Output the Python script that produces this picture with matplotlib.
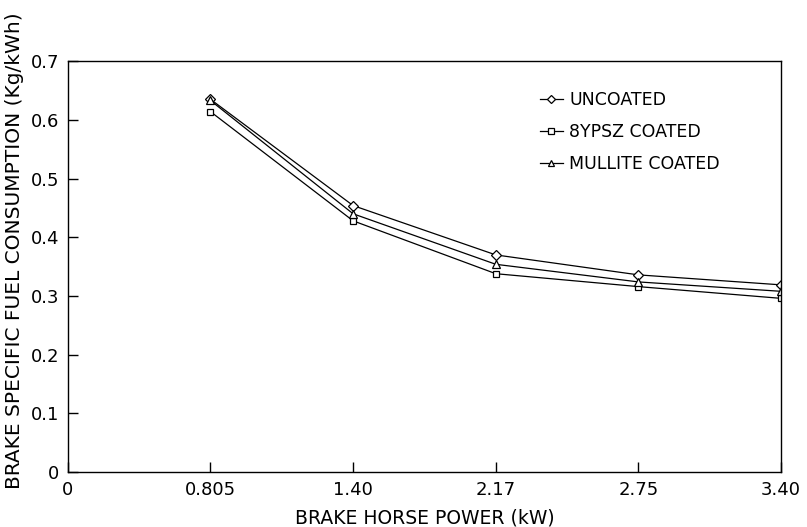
import matplotlib.pyplot as plt

# x categories (evenly spaced on the original chart)
bhp_labels = ['0', '0.805', '1.40', '2.17', '2.75', '3.40']
uncoated = [0.635, 0.454, 0.370, 0.336, 0.319]
ypsz_coated = [0.614, 0.428, 0.338, 0.316, 0.296]
mullite_coated = [0.633, 0.440, 0.354, 0.324, 0.308]

plt.rcParams['font.family'] = ['DejaVu Sans']

fig = plt.figure(figsize=(8.07, 5.27), dpi=100)
ax = fig.add_axes([0.084, 0.104, 0.884, 0.780])

xs = list(range(1, len(bhp_labels)))
ax.plot(xs, uncoated, color='black', lw=0.9, marker='D', ms=5,
        mfc='white', mec='black', mew=0.9, label='UNCOATED')
ax.plot(xs, ypsz_coated, color='black', lw=0.9, marker='s', ms=5,
        mfc='white', mec='black', mew=0.9, label='8YPSZ COATED')
ax.plot(xs, mullite_coated, color='black', lw=0.9, marker='^', ms=6,
        mfc='white', mec='black', mew=0.9, label='MULLITE COATED')

ax.set_xlim(0, len(bhp_labels) - 1)
ax.set_ylim(0, 0.7)
ax.set_xticks(range(len(bhp_labels)))
ax.set_xticklabels(bhp_labels)
ax.set_yticks([0, 0.1, 0.2, 0.3, 0.4, 0.5, 0.6, 0.7])
ax.set_yticklabels(['0', '0.1', '0.2', '0.3', '0.4', '0.5', '0.6', '0.7'])
ax.tick_params(direction='in', length=7, width=1, labelsize=13, pad=6)

for s in ax.spines.values():
    s.set_linewidth(1)

ax.set_xlabel('BRAKE HORSE POWER (kW)', fontsize=13.5, labelpad=7)
ax.set_ylabel('BRAKE SPECIFIC FUEL CONSUMPTION (Kg/kWh)', fontsize=14.5)
ax.yaxis.set_label_coords(-0.062, 0.54)

ax.legend(loc='upper left', bbox_to_anchor=(0.64, 0.965), frameon=False,
          fontsize=12.5, handlelength=1.3, handletextpad=0.4, labelspacing=0.8,
          markerscale=0.75)

fig.savefig('out.png', dpi=100)
